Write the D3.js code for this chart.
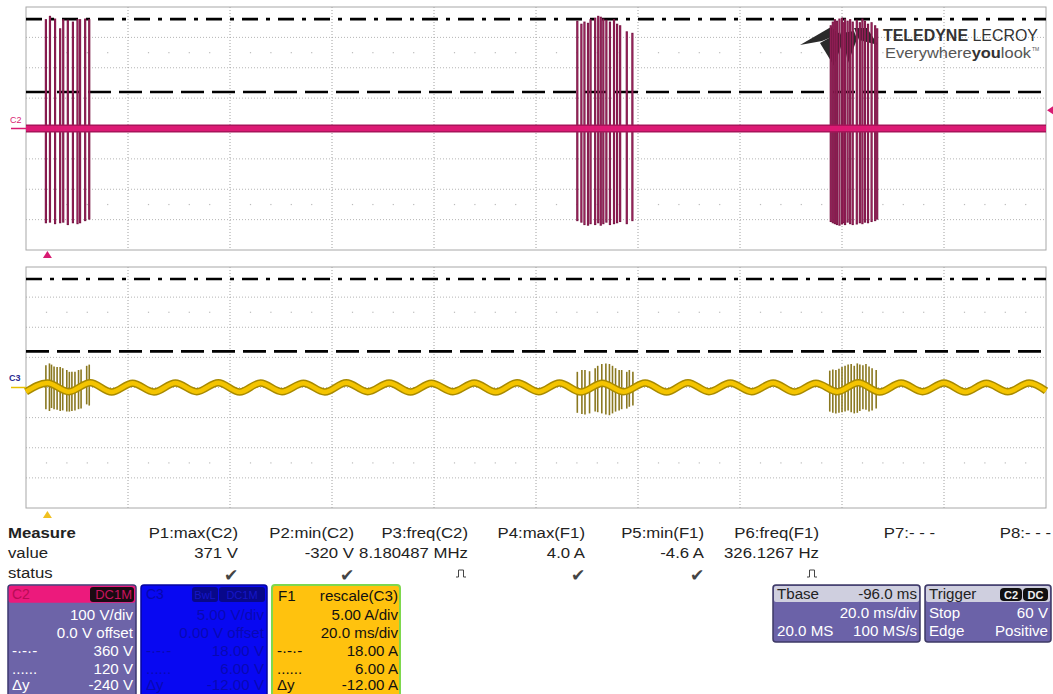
<!DOCTYPE html>
<html><head><meta charset="utf-8">
<script src="https://cdn.jsdelivr.net/npm/d3@7"></script>
<style>body{margin:0;background:#fff}svg{display:block}text{font-family:"Liberation Sans",Arial,sans-serif}</style>
</head><body><svg id="c" width="1053" height="694"></svg>
<script>
// ---------- data ----------
const timeDomain = [0, 200];            // ms across 10 divisions (20 ms/div)
const c2Domain = [-400, 400];           // V, 100 V/div, 0 V offset
const f1Domain = [-20, 20];             // A, 5 A/div
const triggerTime = 4.2;                // ms
const triggerLevel = 60;                // V
const c2Levels = [360, 120];            // dash-dot, dashed cursors (V)
const f1Levels = [18, 6];               // dash-dot, dashed cursors (A)

const c2BaseTimes = [0, 200];
const c2BaseValues = [0, 0];

const c2PulseTimes = [3.9, 4.7, 5.7, 6.7, 7.3, 8.2, 9.2, 10.1, 10.6, 11.6, 12.4,
  108.1, 108.9, 109.5, 110.2, 110.7, 111.6, 112.2, 112.7, 113.2, 113.8, 114.5, 115.3, 115.9, 116.5, 117.8, 118.9,
  157.8, 158.2, 158.6, 159.0, 159.5, 160.0, 160.3, 160.6, 161.1, 161.6, 162.1, 162.9, 163.5, 164.0, 164.5, 165.1, 165.8, 166.5, 166.9];
const c2PulseMax = [360, 371, 362, 330, 360, 358, 352, 360, 360, 362, 360,
  355, 345, 352, 348, 360, 365, 371, 368, 362, 358, 352, 360, 345, 340, 320, 315,
  340, 352, 360, 355, 362, 365, 350, 362, 355, 360, 352, 358, 350, 362, 355, 345, 350, 340, 330];
const c2PulseMin = [-312, -310, -315, -312, -310, -318, -312, -315, -312, -305, -300,
  -305, -310, -318, -320, -315, -318, -312, -320, -315, -310, -318, -315, -312, -308, -315, -305,
  -308, -312, -315, -318, -320, -316, -312, -318, -310, -315, -318, -316, -312, -315, -310, -312, -308, -305, -300];

const f1Times = [0.0, 4.2, 8.4, 12.6, 16.8, 20.9, 25.1, 29.3, 33.5, 37.7,
  41.9, 46.0, 50.2, 54.4, 58.6, 62.8, 67.0, 71.2, 75.4, 79.5,
  83.7, 87.9, 92.1, 96.3, 100.5, 104.6, 108.8, 113.0, 117.2, 121.4,
  125.6, 129.8, 133.9, 138.1, 142.3, 146.5, 150.7, 154.9, 159.1, 163.2,
  167.4, 171.6, 175.8, 180.0, 184.2, 188.3, 192.5, 196.7, 200.0];
const f1Values = [-0.7, 0.75, -0.7, 0.8, -0.75, 0.7, -0.75, 0.75, -0.7, 0.8,
  -0.75, 0.75, -0.7, 0.7, -0.75, 0.8, -0.7, 0.75, -0.75, 0.7,
  -0.7, 0.75, -0.75, 0.8, -0.7, 0.75, -0.75, 0.7, -0.7, 0.75,
  -0.75, 0.8, -0.7, 0.75, -0.7, 0.75, -0.75, 0.7, -0.7, 0.8,
  -0.75, 0.75, -0.7, 0.75, -0.75, 0.7, -0.7, 0.75, -0.55];

const f1PulseTimes = [3.9, 4.6, 5.0, 5.5, 6.1, 6.7, 7.2, 8.0, 8.5, 9.0, 9.6, 10.3, 10.8, 11.9, 12.4,
  108.1, 109.0, 109.6, 110.5, 111.6, 112.1, 112.9, 113.7, 114.4, 115.0, 115.6, 116.3, 116.8, 117.8, 118.3, 119.0,
  157.6, 158.2, 158.8, 159.4, 160.0, 160.6, 161.2, 161.8, 162.4, 163.0, 163.5, 164.1, 164.7, 165.3, 165.9, 166.7];
const f1PulseMax = [3.7, 4.0, 3.8, 3.5, 3.4, 3.4, 3.2, 2.9, 2.6, 2.6, 2.6, 2.9, 3.0, 3.6, 3.8,
  2.6, 2.9, 2.9, 2.7, 3.2, 3.6, 3.9, 4.0, 3.9, 3.6, 3.2, 2.9, 2.9, 2.6, 2.9, 2.6,
  2.8, 3.0, 2.9, 3.1, 3.4, 3.6, 3.8, 3.9, 3.6, 4.0, 3.8, 3.7, 3.9, 3.5, 3.2, 2.9];
const f1PulseMin = [-3.6, -3.9, -3.4, -3.6, -3.7, -3.9, -3.8, -4.0, -4.0, -3.9, -3.8, -3.6, -3.5, -2.8, -3.0,
  -4.2, -4.4, -4.5, -4.3, -4.0, -4.1, -4.3, -4.5, -4.6, -4.3, -4.0, -3.8, -3.6, -3.5, -3.2, -3.0,
  -4.0, -4.2, -4.3, -4.2, -4.1, -4.0, -3.8, -4.1, -4.3, -4.2, -3.9, -3.6, -3.7, -4.0, -3.8, -3.5];

const measHeaders = ["P1:max(C2)", "P2:min(C2)", "P3:freq(C2)", "P4:max(F1)", "P5:min(F1)", "P6:freq(F1)", "P7:- - -", "P8:- - -"];
const measValues = ["371 V", "-320 V", "8.180487 MHz", "4.0 A", "-4.6 A", "326.1267 Hz", "", ""];
const measStatus = ["check", "check", "pulse", "check", "check", "pulse", "", ""];

const c2Box = ["100 V/div", "0.0 V offset", "360 V", "120 V", "-240 V"];
const c3Box = ["5.00 V/div", "0.00 V offset", "18.00 V", "6.00 V", "-12.00 V"];
const f1Box = ["rescale(C3)", "5.00 A/div", "20.0 ms/div", "18.00 A", "6.00 A", "-12.00 A"];
const tbaseBox = ["-96.0 ms", "20.0 ms/div", "20.0 MS", "100 MS/s"];
const triggerBox = ["Stop", "60 V", "Edge", "Positive"];

// ---------- layout ----------
const svg = d3.select("#c");
const L = 26, R = 1046;
const x = d3.scaleLinear().domain(timeDomain).range([L, R]);
const yTop = d3.scaleLinear().domain(c2Domain).range([250, 7]);
const yBot = d3.scaleLinear().domain(f1Domain).range([508, 267]);

function stretch(sel, k) {
  sel.each(function () {
    const l = this.getComputedTextLength();
    if (l > 0) d3.select(this).attr("textLength", l * k).attr("lengthAdjust", "spacingAndGlyphs");
  });
}

function grid(y, dom) {
  const g = svg.append("g");
  const yt = d3.range(dom[0], dom[1] + 1e-9, (dom[1] - dom[0]) / 8);
  const xt = d3.range(timeDomain[0], timeDomain[1] + 1e-9, 20);
  g.selectAll(".h").data(yt.slice(1, -1)).join("line")
    .attr("x1", L).attr("x2", R).attr("y1", d => y(d)).attr("y2", d => y(d))
    .attr("stroke", "#b4b4b4").attr("stroke-dasharray", "1,2");
  g.selectAll(".v").data(xt.slice(1, -1)).join("line")
    .attr("x1", d => x(d)).attr("x2", d => x(d)).attr("y1", y.range()[1]).attr("y2", y.range()[0])
    .attr("stroke", "#a0a0a0").attr("stroke-dasharray", "1,2");
  const step = (dom[1] - dom[0]) / 8;
  const rows = [dom[1] - 1.5 * step, dom[0] + 1.5 * step];
  const minor = d3.range(timeDomain[0], timeDomain[1], 4).filter(t => t % 20 !== 0);
  rows.forEach(r => {
    g.append("g").selectAll("rect").data(minor).join("rect")
      .attr("x", d => x(d) - 0.5).attr("y", y(r) - 0.5).attr("width", 1.2).attr("height", 1.2).attr("fill", "#bbb");
  });
  g.append("rect").attr("x", L).attr("y", y.range()[1]).attr("width", R - L).attr("height", y.range()[0] - y.range()[1])
    .attr("fill", "none").attr("stroke", "#a8a8a8");
}
grid(yTop, c2Domain);
grid(yBot, f1Domain);

function levels(y, lv) {
  svg.append("line").attr("x1", L).attr("x2", R).attr("y1", y(lv[0])).attr("y2", y(lv[0]))
    .attr("stroke", "#000").attr("stroke-width", 2.6).attr("stroke-dasharray", "16,8,4,8");
  svg.append("line").attr("x1", L).attr("x2", R).attr("y1", y(lv[1])).attr("y2", y(lv[1]))
    .attr("stroke", "#000").attr("stroke-width", 2.6).attr("stroke-dasharray", "23,8");
}
levels(yTop, c2Levels);
levels(yBot, f1Levels);

// logo (behind traces)
const lg = svg.append("g").attr("fill", "#2b2b2b");
lg.append("path").attr("d", "M800,45 L831,27 L839,34 L822,41 Z");
lg.append("path").attr("d", "M820,43 L840,32 L843,41 L834,66 Z");
lg.append("path").attr("d", "M842,33 L854,31 L857,39 L848,63 Z");
lg.append("path").attr("d", "M854,28 L867,28 L878,45 L859,40 Z");
const t1 = svg.append("text").attr("x", 883).attr("y", 41).attr("font-size", 17).attr("fill", "#333")
  .attr("textLength", 155).attr("lengthAdjust", "spacingAndGlyphs");
t1.append("tspan").attr("font-weight", "bold").text("TELEDYNE");
t1.append("tspan").text(" LECROY");
const t2 = svg.append("text").attr("x", 885).attr("y", 58).attr("font-size", 14).attr("fill", "#555")
  .attr("textLength", 146).attr("lengthAdjust", "spacingAndGlyphs");
t2.append("tspan").text("Everywhere");
t2.append("tspan").attr("font-weight", "bold").attr("fill", "#333").text("you");
t2.append("tspan").text("look");
svg.append("text").attr("x", 1032).attr("y", 51).attr("font-size", 5).attr("fill", "#555").text("TM");

// C2 pulses
const gp = svg.append("g");
const c2p = c2PulseTimes.map((t, i) => ({t, hi: c2PulseMax[i], lo: c2PulseMin[i]}));
gp.selectAll(".o").data(c2p).join("line")
  .attr("x1", d => x(d.t)).attr("x2", d => x(d.t)).attr("y1", d => yTop(d.hi)).attr("y2", d => yTop(d.lo))
  .attr("stroke", "#761543").attr("stroke-width", 2.2);
gp.selectAll(".i").data(c2p).join("line")
  .attr("x1", d => x(d.t)).attr("x2", d => x(d.t)).attr("y1", d => yTop(d.hi) + 1).attr("y2", d => yTop(d.lo) - 1)
  .attr("stroke", "#a82a66").attr("stroke-width", 0.7);

// C2 baseline trace
const c2Line = d3.line().x((d, i) => x(c2BaseTimes[i])).y(d => yTop(d));
svg.append("path").attr("d", c2Line(c2BaseValues)).attr("fill", "none").attr("stroke", "#a8145a").attr("stroke-width", 8);
svg.append("path").attr("d", c2Line(c2BaseValues)).attr("fill", "none").attr("stroke", "#dc1a74").attr("stroke-width", 5);

// F1 pulses
const f1p = f1PulseTimes.map((t, i) => ({t, hi: f1PulseMax[i], lo: f1PulseMin[i]}));
svg.append("g").selectAll("line").data(f1p).join("line")
  .attr("x1", d => x(d.t)).attr("x2", d => x(d.t)).attr("y1", d => yBot(d.hi)).attr("y2", d => yBot(d.lo))
  .attr("stroke", "#8a7820").attr("stroke-width", 1.6);

// F1 trace
const f1Line = d3.line().x((d, i) => x(f1Times[i])).y(d => yBot(d)).curve(d3.curveMonotoneX);
svg.append("path").attr("d", f1Line(f1Values)).attr("fill", "none").attr("stroke", "#a88a00").attr("stroke-width", 7.5);
svg.append("path").attr("d", f1Line(f1Values)).attr("fill", "none").attr("stroke", "#f4c400").attr("stroke-width", 4.5);

// channel markers
svg.append("text").attr("x", 10).attr("y", 123).attr("font-size", 9).attr("fill", "#d81b72").text("C2");
svg.append("line").attr("x1", 11).attr("x2", L).attr("y1", yTop(0)).attr("y2", yTop(0)).attr("stroke", "#d81b72").attr("stroke-width", 1.5);
svg.append("text").attr("x", 9).attr("y", 381).attr("font-size", 9).attr("font-weight", "bold").attr("fill", "#2a2a90").text("C3");
svg.append("line").attr("x1", 11).attr("x2", L).attr("y1", yBot(0)).attr("y2", yBot(0)).attr("stroke", "#e8c000").attr("stroke-width", 1.5);
const tx = x(triggerTime);
svg.append("path").attr("d", `M${tx - 4.5},258 L${tx},251 L${tx + 4.5},258 Z`).attr("fill", "#d81b72");
svg.append("path").attr("d", `M${tx - 4.5},518 L${tx},511 L${tx + 4.5},518 Z`).attr("fill", "#f0c020");
const ty = yTop(triggerLevel);
svg.append("path").attr("d", `M1053,${ty - 4} L1047,${ty} L1053,${ty + 4} Z`).attr("fill", "#d81b72");

// measure table
const MF = 15.5, MK = 1.08;
const mt = svg.append("g").attr("font-size", MF).attr("fill", "#222");
mt.append("text").attr("x", 8).attr("y", 538).attr("font-weight", "bold").text("Measure");
mt.append("text").attr("x", 8).attr("y", 558).text("value");
mt.append("text").attr("x", 8).attr("y", 578).text("status");
const colR = [238, 354, 468, 585, 704, 819, 935, 1051];
mt.selectAll(".hd").data(measHeaders).join("text").attr("x", (d, i) => colR[i]).attr("y", 538)
  .attr("text-anchor", "end").text(d => d);
mt.selectAll(".vl").data(measValues).join("text").attr("x", (d, i) => colR[i]).attr("y", 558)
  .attr("text-anchor", "end").text(d => d);
stretch(mt.selectAll("text"), MK);
measStatus.forEach((s, i) => {
  const cx = colR[i] - 7;
  if (s === "check") {
    mt.append("text").attr("x", cx).attr("y", 581).attr("font-size", 17).attr("text-anchor", "middle")
      .attr("fill", "#444").attr("font-family", "DejaVu Sans").text("\u2714");
  } else if (s === "pulse") {
    mt.append("path").attr("d", `M${cx - 5},577 h2.5 v-7 h5 v7 h2.5`).attr("fill", "none").attr("stroke", "#444").attr("stroke-width", 1);
  }
});

// channel boxes
function box(x0, w, fill, stroke) {
  return svg.append("rect").attr("x", x0).attr("y", 585).attr("width", w).attr("height", 120).attr("rx", 3)
    .attr("fill", fill).attr("stroke", stroke).attr("stroke-width", 1.5);
}
const rowsY = [620, 638, 656, 674, 690];
const BF = 14, BK = 1.08;
// C2
box(8, 128, "#6d64a8", "#3d3870");
svg.append("rect").attr("x", 8.75).attr("y", 585.75).attr("width", 126.5).attr("height", 17).attr("rx", 2).attr("fill", "#ec1a7c");
svg.append("text").attr("x", 12).attr("y", 599).attr("font-size", BF).attr("fill", "#b80c55").text("C2");
svg.append("rect").attr("x", 90).attr("y", 587).attr("width", 44).attr("height", 15).attr("rx", 3).attr("fill", "#1a0a12");
svg.append("text").attr("x", 132).attr("y", 599).attr("font-size", 13).attr("text-anchor", "end").attr("fill", "#c8145e").text("DC1M");
const c2t = svg.append("g").attr("font-size", BF).attr("fill", "#fff");
c2t.selectAll("text").data(c2Box).join("text").attr("x", 133).attr("y", (d, i) => rowsY[i]).attr("text-anchor", "end").text(d => d);
c2t.append("text").attr("x", 12).attr("y", rowsY[2]).text("-·-·-");
c2t.append("text").attr("x", 12).attr("y", rowsY[3]).text("......");
c2t.append("text").attr("x", 12).attr("y", rowsY[4]).text("Δy");
stretch(c2t.selectAll("text"), BK);
// C3
box(141, 126, "#0808f2", "#0606a0");
svg.append("text").attr("x", 146).attr("y", 599).attr("font-size", BF).attr("fill", "#0606b0").text("C3");
svg.append("rect").attr("x", 192).attr("y", 587).attr("width", 26).attr("height", 15).attr("rx", 3).attr("fill", "#08088a");
svg.append("rect").attr("x", 219).attr("y", 587).attr("width", 46).attr("height", 15).attr("rx", 3).attr("fill", "#08088a");
svg.append("text").attr("x", 205).attr("y", 599).attr("font-size", 11).attr("text-anchor", "middle").attr("fill", "#1616c8").text("BwL");
svg.append("text").attr("x", 242).attr("y", 599).attr("font-size", 11).attr("text-anchor", "middle").attr("fill", "#1616c8").text("DC1M");
const c3t = svg.append("g").attr("font-size", BF).attr("fill", "#0808b4");
c3t.selectAll("text").data(c3Box).join("text").attr("x", 264).attr("y", (d, i) => rowsY[i]).attr("text-anchor", "end").text(d => d);
c3t.append("text").attr("x", 146).attr("y", rowsY[2]).text("-·-·-");
c3t.append("text").attr("x", 146).attr("y", rowsY[3]).text("......");
c3t.append("text").attr("x", 146).attr("y", rowsY[4]).text("Δy");
stretch(c3t.selectAll("text"), BK);
// F1
box(272, 128, "#ffc20e", "#7ed84e").attr("stroke-width", 2);
const f1t = svg.append("g").attr("font-size", BF).attr("fill", "#111");
f1t.append("text").attr("x", 278).attr("y", 601).text("F1");
f1t.selectAll(".r").data(f1Box).join("text").attr("x", 398).attr("y", (d, i) => [601].concat(rowsY)[i]).attr("text-anchor", "end").text(d => d);
f1t.append("text").attr("x", 277).attr("y", rowsY[2]).text("-·-·-");
f1t.append("text").attr("x", 277).attr("y", rowsY[3]).text("......");
f1t.append("text").attr("x", 277).attr("y", rowsY[4]).text("Δy");
stretch(f1t.selectAll("text"), BK);

// Tbase & Trigger boxes
function smallBox(x0, w) {
  svg.append("rect").attr("x", x0).attr("y", 585).attr("width", w).attr("height", 57).attr("rx", 3)
    .attr("fill", "#6b62a8").attr("stroke", "#3e3a66").attr("stroke-width", 1.5);
  svg.append("rect").attr("x", x0 + 1).attr("y", 586).attr("width", w - 2).attr("height", 16).attr("rx", 2).attr("fill", "#cfcfdf");
}
smallBox(773, 147);
smallBox(925, 126);
const tb = svg.append("g").attr("font-size", BF);
tb.append("text").attr("x", 777).attr("y", 599).attr("fill", "#222").text("Tbase");
tb.append("text").attr("x", 917).attr("y", 599).attr("fill", "#222").attr("text-anchor", "end").text(tbaseBox[0]);
tb.append("text").attr("x", 917).attr("y", 618).attr("fill", "#fff").attr("text-anchor", "end").text(tbaseBox[1]);
tb.append("text").attr("x", 777).attr("y", 636).attr("fill", "#fff").text(tbaseBox[2]);
tb.append("text").attr("x", 917).attr("y", 636).attr("fill", "#fff").attr("text-anchor", "end").text(tbaseBox[3]);
tb.append("text").attr("x", 929).attr("y", 599).attr("fill", "#222").text("Trigger");
tb.append("text").attr("x", 929).attr("y", 618).attr("fill", "#fff").text(triggerBox[0]);
tb.append("text").attr("x", 1048).attr("y", 618).attr("fill", "#fff").attr("text-anchor", "end").text(triggerBox[1]);
tb.append("text").attr("x", 929).attr("y", 636).attr("fill", "#fff").text(triggerBox[2]);
tb.append("text").attr("x", 1048).attr("y", 636).attr("fill", "#fff").attr("text-anchor", "end").text(triggerBox[3]);
stretch(tb.selectAll("text"), BK);
tb.append("rect").attr("x", 1000).attr("y", 588).attr("width", 22).attr("height", 13).attr("rx", 4).attr("fill", "#111");
tb.append("rect").attr("x", 1023).attr("y", 588).attr("width", 25).attr("height", 13).attr("rx", 4).attr("fill", "#111");
tb.append("text").attr("x", 1011).attr("y", 599).attr("font-size", 11).attr("font-weight", "bold").attr("text-anchor", "middle").attr("fill", "#eee").text("C2");
tb.append("text").attr("x", 1035.5).attr("y", 599).attr("font-size", 11).attr("font-weight", "bold").attr("text-anchor", "middle").attr("fill", "#eee").text("DC");
</script></body></html>
